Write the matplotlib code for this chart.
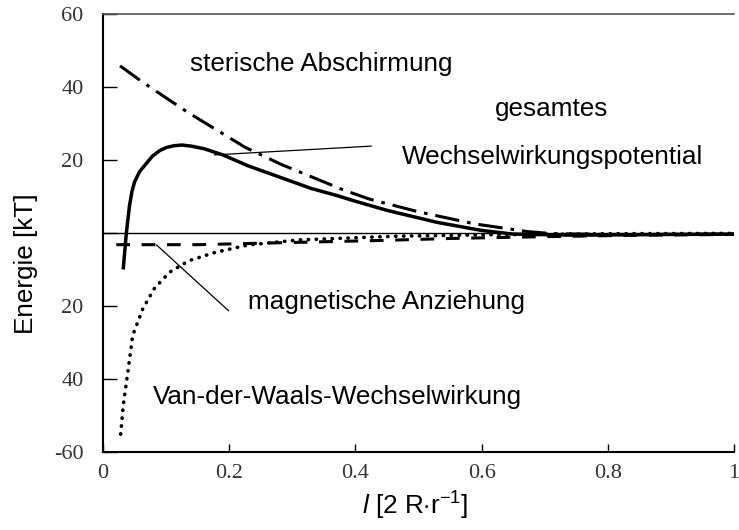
import matplotlib
matplotlib.use('Agg')
import matplotlib.pyplot as plt

plt.rcParams['font.family'] = ['Liberation Sans', 'DejaVu Sans']
plt.rcParams['mathtext.fontset'] = 'custom'
plt.rcParams['mathtext.rm'] = 'Liberation Sans'
plt.rcParams['mathtext.it'] = 'Liberation Sans:italic'

# curves (x in 2R/r, energy in kT)
steric_x = [0.027, 0.063, 0.133, 0.225, 0.281, 0.381, 0.422, 0.50, 0.589, 0.672, 0.714, 0.80, 0.90, 1.0]
steric_y = [45.8, 41.3, 33.2, 23.5, 18.9, 11.8, 9.3, 5.8, 2.5, 0.4, -0.2, -0.4, -0.4, -0.3]

total_x = [0.032, 0.035, 0.037, 0.040, 0.042, 0.046, 0.05, 0.058, 0.066, 0.078, 0.09, 0.10, 0.112,
           0.125, 0.14, 0.16, 0.19, 0.23, 0.28, 0.33, 0.37, 0.40, 0.45, 0.53, 0.60, 0.65, 0.75,
           0.90, 1.0]
total_y = [-10.0, -4.0, 0.0, 4.5, 7.5, 11.5, 14.0, 16.8, 18.5, 21.0, 22.6, 23.4, 23.9,
           24.1, 23.8, 23.1, 21.4, 18.4, 15.3, 12.2, 10.3, 8.7, 6.2, 2.9, 0.7, -0.3, -0.6,
           -0.4, -0.3]

magnet_x = [0.021, 0.15, 0.20, 0.30, 0.45, 0.55, 0.70, 0.85, 1.0]
magnet_y = [-3.2, -3.2, -3.0, -2.6, -2.0, -1.5, -1.0, -0.6, -0.4]

vdw_x = [0.028, 0.032, 0.040, 0.047, 0.063, 0.081, 0.105, 0.136, 0.178, 0.23, 0.31, 0.46, 0.60, 0.80, 1.0]
vdw_y = [-55.1, -47.3, -37.3, -28.1, -20.8, -15.3, -10.8, -7.6, -5.3, -3.3, -1.9, -0.9, -0.5, -0.2, -0.1]

y_ticks = [60, 40, 20, 0, -20, -40, -60]
y_ticklabels = ['60', '40', '20', '', '20', '40', '-60']
x_ticks = [0, 0.2, 0.4, 0.6, 0.8, 1.0]
x_ticklabels = ['0', '0.2', '0.4', '0.6', '0.8', '1']

fig = plt.figure(figsize=(7.39, 5.30), dpi=100)
ax = fig.add_axes([103 / 739, 78 / 530, 631 / 739, 438 / 530])
ax.set_xlim(0, 1)
ax.set_ylim(-60, 60)

ax.axhline(0, color='black', lw=1.0, zorder=1)
ax.plot(steric_x, steric_y, color='black', lw=2.2, ls=(0, (8, 2.6, 1.2, 2.6)))
ax.plot(total_x, total_y, color='black', lw=2.5, solid_capstyle='butt')
ax.plot(magnet_x, magnet_y, color='black', lw=2.2, ls=(0, (4.5, 3.8)))
ax.plot(vdw_x, vdw_y, color='black', lw=2.6, ls=(0, (0.1, 2.1)), dash_capstyle='round')

# pointer lines
ax.plot([0.177, 0.425], [21.4, 23.8], color='black', lw=0.9)
ax.plot([0.085, 0.199], [-3.3, -21.3], color='black', lw=0.9)

fs = 18.8
ax.text(0.138, 44.5, 'sterische Abschirmung', fontsize=fs, va='baseline')
ax.text(0.621, 32.1, 'gesamtes', fontsize=fs, va='baseline')
ax.text(0.474, 18.9, 'Wechselwirkungspotential', fontsize=fs, va='baseline')
ax.text(0.230, -20.8, 'magnetische Anziehung', fontsize=fs, va='baseline')
ax.text(0.079, -46.8, 'Van-der-Waals-Wechselwirkung', fontsize=fs, va='baseline')

ax.set_xticks(x_ticks)
ax.set_xticklabels(x_ticklabels)
ax.set_yticks(y_ticks)
ax.set_yticklabels(y_ticklabels)
for lab in ax.get_xticklabels() + ax.get_yticklabels():
    lab.set_family('Liberation Serif')
    lab.set_fontsize(16)
    lab.set_color('#333333')
ax.tick_params(axis='y', direction='in', length=10, width=1.0, pad=14)
ax.tick_params(axis='x', direction='in', length=6, width=1.0, pad=9)

ax.spines['right'].set_visible(False)
ax.spines['left'].set_linewidth(1.5)
ax.spines['bottom'].set_linewidth(1.5)
ax.spines['top'].set_linewidth(1.2)
ax.spines['top'].set_color('#555555')

ax.text(-0.122, 0.43, 'Energie [kT]', transform=ax.transAxes, rotation=90,
        ha='center', va='center', fontsize=fs)
ax.text(0.495, -0.143, r'$\mathit{l}$ [2 R$\cdot$r$^{-1}$]', transform=ax.transAxes,
        ha='center', va='baseline', fontsize=fs)

fig.savefig('out.png', dpi=100)
